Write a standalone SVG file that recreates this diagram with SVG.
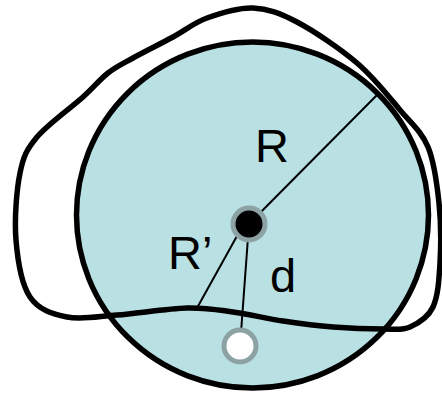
<svg xmlns="http://www.w3.org/2000/svg" width="442" height="394" viewBox="0 0 442 394">
<style>
.disk{fill:#b9e0e3;stroke:#000;stroke-width:5.5}
.blob{fill:none;stroke:#000;stroke-width:5.5;stroke-linejoin:round}
.thin{stroke:#000;stroke-width:2;fill:none}
.lbl{font-family:"Liberation Sans",Arial,sans-serif;font-size:47px;fill:#000}
.pt{stroke:#8da2a5;stroke-width:5}
</style>
<g id="disk"><ellipse class="disk" cx="252.5" cy="215" rx="176" ry="173"/></g>
<g id="boundary"><path class="blob" d="M253,8 C268,8.7 279.7,12.8 297,22 C314.3,31.2 339.8,48.3 357,63 C374.2,77.7 388.2,96 400,110 C411.8,124 421.5,131.5 428,147 C434.5,162.5 437,183.7 439,203 C441,222.3 441,245.7 440,263 C439,280.3 438,296.3 433,307 C428,317.7 418.3,323.3 410,327 C401.7,330.7 395.8,329 383,329 C370.2,329 349.7,328.3 333,327 C316.3,325.7 299.7,323.5 283,321 C266.3,318.5 249,314.2 233,312 C217,309.8 206.3,307.5 187,308 C167.7,308.5 137,313.5 117,315 C97,316.5 81.5,320 67,317 C52.5,314 38.5,309.8 30,297 C21.5,284.2 17.7,260.7 16,240 C14.3,219.3 16.5,190.2 20,173 C23.5,155.8 26.5,149.7 37,137 C47.5,124.3 71.2,107.7 83,97 C94.8,86.3 99.7,79.5 108,73 C116.3,66.5 122.2,64 133,58 C143.8,52 160.7,43.7 173,37 C185.3,30.3 193.7,22.8 207,18 C220.3,13.2 238,7.3 253,8 Z"/></g>
<g id="connectors">
<line class="thin" x1="249" y1="224" x2="378" y2="94"/>
<line class="thin" x1="242" y1="227" x2="197" y2="308"/>
<line class="thin" x1="249" y1="224" x2="240" y2="346"/>
</g>
<g id="center"><circle class="pt" cx="249" cy="224" r="16" fill="#000"/></g>
<g id="point"><circle class="pt" cx="240" cy="346" r="16" fill="#fff"/></g>
<g id="labels">
<text class="lbl" x="255" y="162">R</text>
<text class="lbl" x="168" y="269">R’</text>
<text class="lbl" x="270" y="292">d</text>
</g>
</svg>
